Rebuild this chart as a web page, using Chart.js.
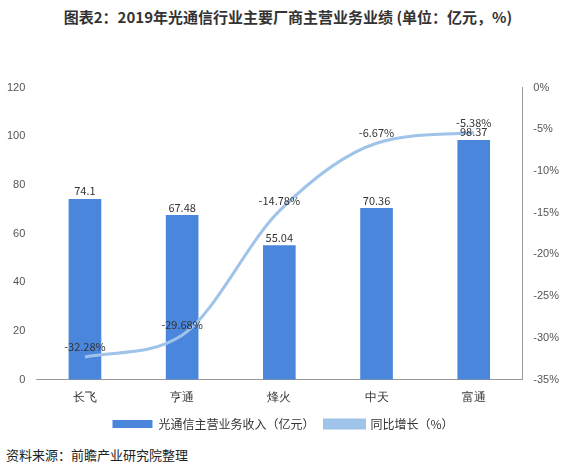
<!DOCTYPE html>
<html><head><meta charset="utf-8">
<script src="https://cdn.jsdelivr.net/npm/chart.js@4"></script>
<style>
body{margin:0;background:#fff;font-family:"Noto Sans CJK SC",sans-serif;}
#wrap{position:relative;width:576px;height:474px;}
#title{position:absolute;top:6px;left:0;width:576px;text-align:center;font-size:15px;font-weight:bold;color:#333;}
#src{position:absolute;left:6px;top:445px;font-size:13px;color:#222;}
#c{position:absolute;left:0;top:78px;}
</style></head><body>
<div id="wrap">
<div id="title">图表2：2019年光通信行业主要厂商主营业务业绩 (单位：亿元，%)</div>
<canvas id="c" width="576" height="362"></canvas>
<div id="src">资料来源：前瞻产业研究院整理</div>
</div>
<script>
const companies = ["长飞", "亨通", "烽火", "中天", "富通"];
const revenue = [74.1, 67.48, 55.04, 70.36, 98.37];
const growth = [-32.28, -29.68, -14.78, -6.67, -5.38];

const labelPlugin = {
	id: 'labels',
	afterDatasetsDraw(chart) {
		const ctx = chart.ctx;
		ctx.save();
		ctx.font = '11px "Noto Sans CJK SC", sans-serif';
		ctx.fillStyle = '#333';
		ctx.textAlign = 'center';
		chart.getDatasetMeta(0).data.forEach((el, i) => {
			ctx.fillText(String(revenue[i]), el.x, el.y - 8);
		});
		chart.getDatasetMeta(1).data.forEach((el, i) => {
			ctx.fillText(growth[i] + '%', el.x, el.y - 10);
		});
		ctx.restore();
	}
};

new Chart(document.getElementById('c'), {
	data: {
		labels: companies,
		datasets: [{
			type: 'bar',
			label: '光通信主营业务收入（亿元）',
			data: revenue,
			backgroundColor: '#4a87dc',
			barThickness: 32,
			yAxisID: 'y',
			order: 2
		}, {
			type: 'line',
			label: '同比增长（%）',
			data: growth,
			borderColor: '#9fc3e9',
			backgroundColor: '#9fc3e9',
			borderWidth: 3,
			pointRadius: 0,
			cubicInterpolationMode: 'monotone',
			yAxisID: 'y1',
			order: 1
		}]
	},
	options: {
		responsive: false,
		animation: false,
		layout: { padding: { left: 4, right: 14, top: 6 } },
		plugins: {
			legend: {
				position: 'bottom',
				labels: {
					font: { size: 12, family: '"Noto Sans CJK SC"' },
					color: '#333',
					boxWidth: 40, boxHeight: 8,
					sort: (a, b) => a.datasetIndex - b.datasetIndex
				}
			},
			tooltip: { enabled: false }
		},
		scales: {
			x: {
				grid: { display: false },
				border: { color: '#999' },
				ticks: { color: '#333', font: { size: 12 } }
			},
			y: {
				min: 0, max: 120,
				ticks: { stepSize: 20, color: '#555', font: { size: 11 } },
				grid: { display: false },
				border: { display: false }
			},
			y1: {
				position: 'right',
				min: -35, max: 0,
				ticks: { stepSize: 5, color: '#555', font: { size: 11 }, callback: v => v + '%' },
				grid: { display: false },
				border: { color: '#999' }
			}
		}
	},
	plugins: [labelPlugin]
});
</script>
</body></html>
